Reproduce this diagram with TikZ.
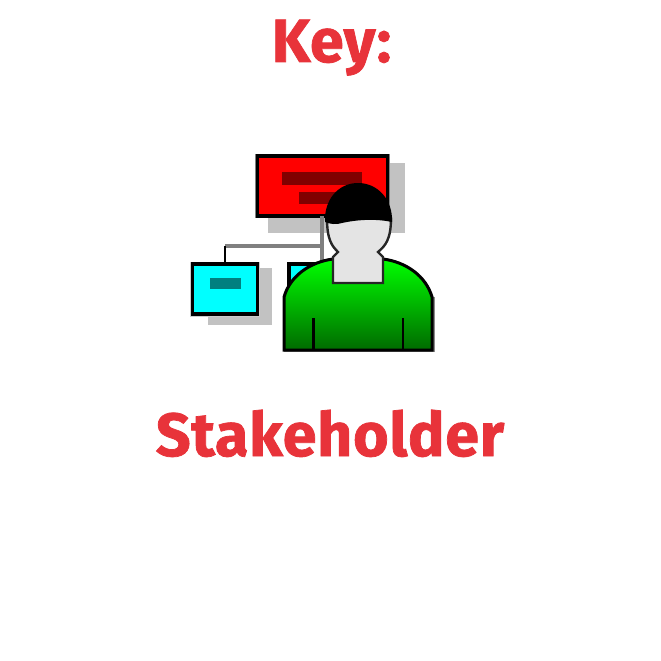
\documentclass[tikz,border=0pt]{standalone}
\usepackage{fontspec}
\setmainfont{Fira Sans}[BoldFeatures={FakeBold=1.2,LetterSpace=1.2}]
\definecolor{keyred}{HTML}{E8333A}
\definecolor{shadowgray}{HTML}{C2C2C2}
\definecolor{linegray}{HTML}{808080}
\definecolor{darkredbar}{HTML}{800000}
\definecolor{tealbar}{HTML}{008080}
\definecolor{facegray}{HTML}{E4E4E4}
\definecolor{purecyan}{HTML}{00FFFF}
\definecolor{purered}{HTML}{FF0000}
\definecolor{puregreen}{HTML}{00FF00}
\definecolor{deepgreen}{HTML}{006A00}
\tikzset{
  title/.style={text=keyred,font=\fontsize{61}{61}\selectfont\bfseries,inner sep=0pt,anchor=base},
  card/.style={draw=black,line width=3.2pt,inner sep=0pt,outer sep=0pt},
  bar/.style={draw=none,inner sep=0pt,outer sep=0pt},
  wire/.style={line width=4pt,linegray}
}
\begin{document}
\begin{tikzpicture}[x=1pt,y=-1pt]
\useasboundingbox (0,0) rectangle (661,661);
\fill[white] (0,0) rectangle (661,661);
% titles
\node[title] (key) at (331.5,62) {Key:};
\node[title] (stake) at (330,456) {Stakeholder};
% shadows
\fill[shadowgray] (268,163) rectangle (405,233);
\fill[shadowgray] (208,268) rectangle (272,325);
\fill[black!50] (254.5,154) rectangle (390,218);
\fill[black!20] (189.5,262) rectangle (260,317);
% cards
\node[card,fill=purered,minimum width=130pt,minimum height=60pt] (top) at (322.5,186) {};
\node[card,fill=purecyan,minimum width=65pt,minimum height=50pt] (left) at (225,289) {};
\node[card,fill=purecyan,minimum width=65pt,minimum height=50pt] (right) at (321.5,289) {};
% bars
\node[bar,fill=darkredbar,minimum width=80pt,minimum height=13pt] (bara) at (322,178.5) {};
\node[bar,fill=darkredbar,minimum width=63pt,minimum height=12pt] (barb) at (330.5,198) {};
\node[bar,fill=tealbar,minimum width=31pt,minimum height=11pt] (barc) at (225,283.5) {};
% connectors
\coordinate (corner) at (left.north |- 0,246);
\draw[wire] (top.south -| right.north) -- (right.north);
\draw[wire] (corner) -- (corner -| right.north);
\draw[line width=2.6pt,black] (corner) -- (left.north);
% body edge
\fill[black!45] (284,352) -- (284,297) -- (435,297) -- (435,352) -- cycle;
% body
\path[draw=black,line width=3pt,top color=puregreen,bottom color=deepgreen]
  (284,350) -- (284,297)
  .. controls (290,276) and (310,262) .. (333,259)
  -- (383,259)
  .. controls (406,262) and (426,276) .. (432,297)
  -- (432,350) -- cycle;
\draw[line width=2.2pt,black] (313.5,318) -- (313.5,350);
\draw[line width=2.2pt,black] (403,318) -- (403,350);
% face and neck
\path[draw=black!85,line width=2.4pt,fill=facegray]
  (333,283) -- (333,257) -- (338,252)
  .. controls (332,246) and (327,240) .. (327,218)
  -- (391,218)
  .. controls (391,240) and (385,246) .. (378,252)
  -- (383,257) -- (383,283) -- cycle;
% hair
\fill[black] (325,222)
  .. controls (324,200) and (338,183) .. (358,183)
  .. controls (378,183) and (393,200) .. (392,222)
  .. controls (378,219) and (360,219) .. (342,223)
  .. controls (336,225) and (330,224) .. (325,222) -- cycle;
\end{tikzpicture}
\end{document}
